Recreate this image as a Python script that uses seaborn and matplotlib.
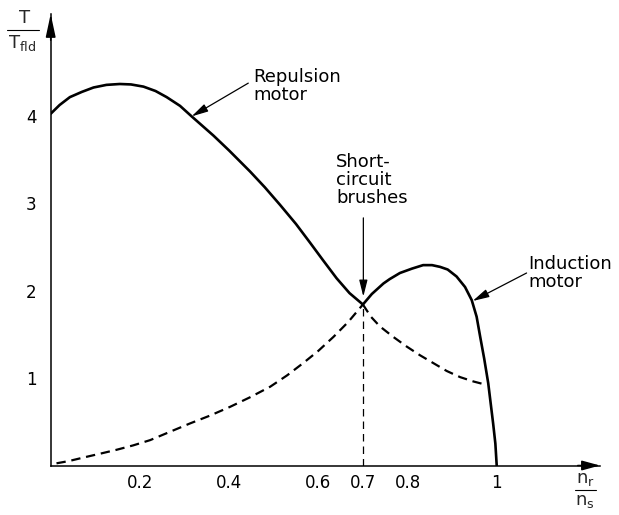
import matplotlib
matplotlib.use("Agg")
import matplotlib.pyplot as plt
import seaborn as sns
from matplotlib.lines import Line2D

# ---- data ----
solid_x = [0.0, 0.02, 0.043, 0.07, 0.096, 0.125, 0.155, 0.18, 0.208, 0.235,
           0.26, 0.29, 0.316, 0.365, 0.40, 0.447, 0.48, 0.514, 0.55, 0.581,
           0.61, 0.641, 0.67, 0.70, 0.72, 0.746, 0.76, 0.783, 0.81, 0.835,
           0.855, 0.873, 0.89, 0.910, 0.929, 0.944, 0.955, 0.963, 0.972, 0.981,
           0.992, 0.997, 1.0]
solid_y = [4.02, 4.12, 4.21, 4.27, 4.32, 4.35, 4.36, 4.355, 4.33, 4.28,
           4.21, 4.11, 3.99, 3.77, 3.60, 3.36, 3.18, 2.98, 2.76, 2.55,
           2.35, 2.14, 1.97, 1.84, 1.96, 2.08, 2.13, 2.20, 2.25, 2.29,
           2.29, 2.27, 2.24, 2.16, 2.04, 1.89, 1.70, 1.47, 1.22, 0.94,
           0.48, 0.25, 0.0]
dash_left_x = [0.013, 0.04, 0.081, 0.115, 0.148, 0.185, 0.223, 0.265, 0.312,
               0.357, 0.402, 0.447, 0.492, 0.53, 0.566, 0.60, 0.634, 0.667, 0.70]
dash_left_y = [0.025, 0.05, 0.10, 0.14, 0.18, 0.23, 0.29, 0.38, 0.48,
               0.57, 0.67, 0.78, 0.90, 1.03, 1.17, 1.31, 1.47, 1.64, 1.84]
dash_right_x = [0.70, 0.718, 0.738, 0.768, 0.798, 0.828, 0.858, 0.888, 0.918,
                0.948, 0.978]
dash_right_y = [1.84, 1.70, 1.59, 1.47, 1.36, 1.26, 1.17, 1.08, 1.01,
                0.96, 0.92]
short_circuit_x = [0.70, 0.70]
short_circuit_y = [0.0, 1.84]

x_ticks = [0.2, 0.4, 0.6, 0.7, 0.8, 1.0]
x_tick_labels = ["0.2", "0.4", "0.6", "0.7", "0.8", "1"]
y_ticks = [1, 2, 3, 4]
y_tick_labels = ["1", "2", "3", "4"]

sns.set_style("white")
plt.rcParams["font.family"] = ["DejaVu Sans"]
plt.rcParams["mathtext.default"] = "regular"

fig = plt.figure(figsize=(6.19, 5.15), dpi=100)
ax = fig.add_axes([50.7 / 619, 49.5 / 515, 549.3 / 619, 451.5 / 515])
XMAX, YMAX = 1.2316, 5.16

sns.lineplot(x=solid_x, y=solid_y, ax=ax, color="black", lw=1.9,
             estimator=None, sort=False)
sns.lineplot(x=dash_left_x, y=dash_left_y, ax=ax, color="black", lw=1.6,
             estimator=None, sort=False, linestyle=(0, (4.2, 2.6)))
sns.lineplot(x=dash_right_x, y=dash_right_y, ax=ax, color="black", lw=1.6,
             estimator=None, sort=False, linestyle=(0, (4.2, 2.6)))
sns.lineplot(x=short_circuit_x, y=short_circuit_y, ax=ax, color="black", lw=0.9,
             estimator=None, sort=False, linestyle=(0, (6, 4)))
for ln in ax.lines:
    ln.set_solid_joinstyle("round")
    ln.set_dash_joinstyle("round")

ax.set_xlim(0, XMAX)
ax.set_ylim(0, YMAX)
ax.set_xticks(x_ticks)
ax.set_xticklabels(x_tick_labels)
ax.set_yticks(y_ticks)
ax.set_yticklabels(y_tick_labels)
ax.tick_params(axis="both", direction="in", length=9.5, width=0.8,
               labelsize=12, colors="black")
ax.tick_params(axis="x", pad=6)
ax.tick_params(axis="y", pad=10)
ax.xaxis.get_major_ticks()[3].tick1line.set_visible(False)
ax.set_xlabel("")
ax.set_ylabel("")

for s in ["top", "right"]:
    ax.spines[s].set_visible(False)
for s in ["left", "bottom"]:
    ax.spines[s].set_color("black")
    ax.spines[s].set_linewidth(1.1)

# axis arrowheads
ax.annotate("", xy=(0, YMAX), xytext=(0, YMAX - 0.3), xycoords="data",
            arrowprops=dict(arrowstyle="-|>,head_length=1.4,head_width=0.3",
                            mutation_scale=10, lw=1.1, color="black",
                            shrinkA=0, shrinkB=0), annotation_clip=False)
ax.annotate("", xy=(XMAX, 0), xytext=(XMAX - 0.05, 0), xycoords="data",
            arrowprops=dict(arrowstyle="-|>,head_length=1.1,head_width=0.3",
                            mutation_scale=10, lw=1.1, color="black",
                            shrinkA=0, shrinkB=0), annotation_clip=False)

# annotations
arrow_kw = dict(arrowstyle="-|>,head_length=1.0,head_width=0.25",
                mutation_scale=10, lw=0.9, color="black", shrinkA=0, shrinkB=0)
ax.annotate("", xy=(0.316, 3.99), xytext=(0.443, 4.37), arrowprops=arrow_kw)
ax.annotate("", xy=(0.701, 1.93), xytext=(0.701, 2.83), arrowprops=arrow_kw)
ax.annotate("", xy=(0.946, 1.88), xytext=(1.067, 2.20), arrowprops=arrow_kw,
            annotation_clip=False)

txt_kw = dict(fontsize=13, ha="left", va="top", linespacing=1.0, color="black")
ax.text(0.454, 4.54, "Repulsion\nmotor", **txt_kw)
ax.text(0.640, 3.57, "Short-\ncircuit\nbrushes", **txt_kw)
ax.text(1.070, 2.41, "Induction\nmotor", clip_on=False, **txt_kw)

# y-axis label as a fraction
W, H = 619.0, 515.0
fig.text(25 / W, 1 - 18 / H, "T", fontsize=13, ha="center", va="center")
fig.add_artist(Line2D([7 / W, 39 / W], [1 - 30 / H, 1 - 30 / H],
                      color="black", lw=0.8))
fig.text(22 / W, 1 - 43 / H, r"$T_{fld}$", fontsize=13, ha="center", va="center")

# x-axis label as a fraction
fig.text(585 / W, 1 - 479 / H, r"$n_r$", fontsize=13, ha="center", va="center")
fig.add_artist(Line2D([575 / W, 596 / W], [1 - 490 / H, 1 - 490 / H],
                      color="black", lw=0.8))
fig.text(585 / W, 1 - 501 / H, r"$n_s$", fontsize=13, ha="center", va="center")

fig.savefig("out.png", dpi=100)
